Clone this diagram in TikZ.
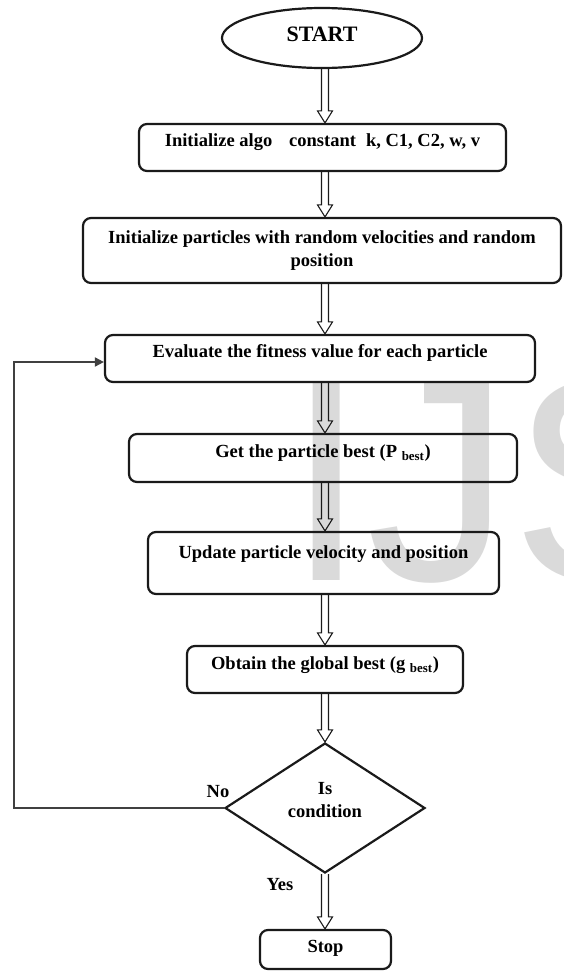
\documentclass[tikz,border=0pt]{standalone}
\usepackage{fontspec}
\setmainfont{Liberation Serif}
\newfontfamily\wmfont{Liberation Sans}
\usetikzlibrary{shapes.geometric,calc,arrows.meta}
\definecolor{wmgray}{HTML}{DADADA}
\definecolor{linecol}{HTML}{1A1A1A}
\newcommand{\bxfont}{\bfseries\fontsize{18.5}{23.5}\selectfont}
\newcommand{\hollowarrow}[2]{%
  \path (#1) coordinate (ha-s) (#2) coordinate (ha-e);
  \draw[harrow] ($(ha-s)+(-3.5,0)$) -- ($(ha-e)+(-3.5,-12)$) -- ($(ha-e)+(-7.5,-12)$)
    -- (ha-e) -- ($(ha-e)+(7.5,-12)$) -- ($(ha-e)+(3.5,-12)$) -- ($(ha-s)+(3.5,0)$);}
\begin{document}
\begin{tikzpicture}[x=1pt,y=-1pt,
  box/.style={draw=linecol, line width=2.2pt, rounded corners=8pt, inner sep=0pt,
              font=\bxfont, anchor=base},
  lbl/.style={font=\bxfont, inner sep=0pt},
  harrow/.style={draw=linecol, line width=1.1pt, line join=miter},
  fb/.style={draw=black!75, line width=1.8pt},
  tipfb/.style={-{Triangle[length=9pt,width=9pt]}}]
\useasboundingbox (0,0) rectangle (563,972);
% watermark
\begin{scope}
  \clip (0,0) rectangle (563,972);
  \node[anchor=base west, inner sep=0pt, text=wmgray,
        font=\wmfont\fontsize{289}{289}\selectfont] (wm) at (286,580) {IJS};
\end{scope}
\coordinate (ax) at (325,0);
% nodes
\node[ellipse, draw=linecol, line width=2.2pt, minimum width=200pt, minimum height=60pt,
      inner sep=0pt, text height=15pt, text depth=9pt,
      font=\bfseries\fontsize{22}{26}\selectfont] (start) at (322,38) {START};
\node[box, minimum width=367pt, text height=22pt, text depth=25pt] (b1) at (322.5,146)
  {Initialize algo\hspace{17pt}constant\hspace{10pt}k, C1, C2, w, v};
\node[box, anchor=center, align=center, minimum width=478pt, minimum height=65pt] (b2) at (322,250.5)
  {Initialize particles with random velocities and random\\position};
\node[box, minimum width=430pt, text height=22pt, text depth=25pt] (b3) at (320,357)
  {Evaluate the fitness value for each particle};
\node[box, minimum width=388pt, text height=23pt, text depth=25pt] (b4) at (323,457)
  {Get the particle best (P \textsubscript{best})};
\node[box, minimum width=351pt, text height=26pt, text depth=36pt] (b5) at (323.5,558)
  {Update particle velocity and position};
\node[box, minimum width=276pt, text height=23pt, text depth=24pt] (b6) at (325,669)
  {Obtain the global best (g \textsubscript{best})};
\node[diamond, draw=linecol, line width=2.2pt, minimum width=200pt, minimum height=130pt,
      shape aspect=1.54, inner sep=0pt] (dec) at (325,808) {};
\node[lbl, align=center] (dectxt) at (325,800) {Is\\condition};
\node[box, minimum width=131pt, text height=22pt, text depth=17pt] (stop) at (325.5,952) {Stop};
\node[lbl] (no) at (218,792) {No};
\node[lbl] (yes) at (280,885) {Yes};
% connectors
\hollowarrow{start.south -| ax}{b1.north -| ax}
\hollowarrow{b1.south -| ax}{b2.north -| ax}
\hollowarrow{b2.south -| ax}{b3.north -| ax}
\hollowarrow{b3.south -| ax}{b4.north -| ax}
\hollowarrow{b4.south -| ax}{b5.north -| ax}
\hollowarrow{b5.south -| ax}{b6.north -| ax}
\hollowarrow{b6.south -| ax}{dec.north}
\hollowarrow{dec.south}{stop.north -| ax}
\coordinate (fbc) at (14,362);
\draw[fb, tipfb] (dec.west) -| (fbc) -- (b3.west |- fbc);
\end{tikzpicture}
\end{document}
